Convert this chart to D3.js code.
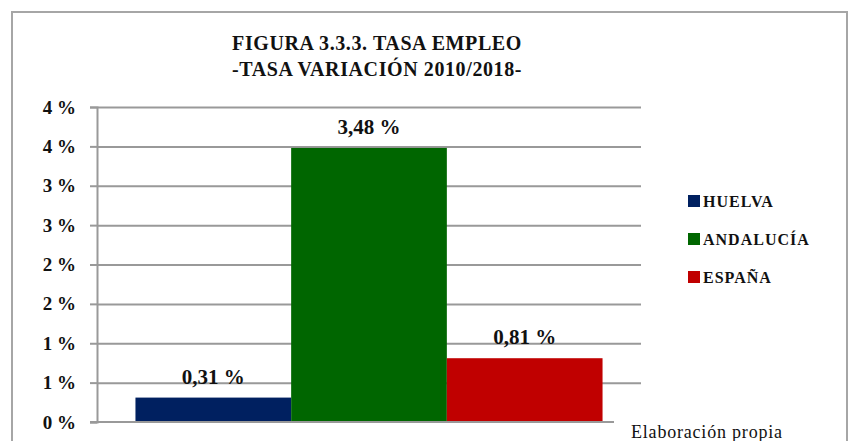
<!DOCTYPE html>
<html lang="es">
<head>
<meta charset="UTF-8">
<title>Tasa empleo</title>
<script src="https://d3js.org/d3.v7.min.js"></script>
<style>
  body { margin: 0; background: #fff; }
  svg text { font-family: "Liberation Serif", "DejaVu Serif", serif; fill: #111; }
  .grid line { stroke: #999; stroke-width: 2; }
</style>
</head>
<body>
<svg class="chart" width="852" height="441"></svg>
<script>
  // data
  const series = ['HUELVA', 'ANDALUCÍA', 'ESPAÑA'];
  const values = [0.31, 3.48, 0.81];
  const valueLabels = ['0,31 %', '3,48 %', '0,81 %'];
  const colors = ['#002060', '#006600', '#c00000'];
  const tickValues = [0, 0.5, 1, 1.5, 2, 2.5, 3, 3.5, 4];
  const tickLabels = ['0 %', '1 %', '1 %', '2 %', '2 %', '3 %', '3 %', '4 %', '4 %'];
  const titleLines = ['FIGURA 3.3.3. TASA EMPLEO', '-TASA VARIACIÓN 2010/2018-'];

  const svg = d3.select('svg.chart');
  const plot = { left: 97, right: 641, top: 107, bottom: 422 };

  // outer frame
  svg.append('rect')
    .attr('x', 12).attr('y', 12)
    .attr('width', 835).attr('height', 440)
    .attr('fill', 'none').attr('stroke', '#a6a6a6').attr('stroke-width', 2);

  // title
  svg.append('g').selectAll('text')
    .data(titleLines)
    .join('text')
    .attr('x', 377)
    .attr('y', (d, i) => 50 + i * 26)
    .attr('text-anchor', 'middle')
    .style('font-weight', 'bold')
    .style('font-size', '20px')
    .style('letter-spacing', '0.6px')
    .text(d => d);

  // scales
  const y = d3.scaleLinear().domain([0, 4]).range([plot.bottom, plot.top]);
  const x = d3.scaleBand().domain(series)
    .range([plot.left, plot.right])
    .paddingInner(0).paddingOuter(0.247);

  // gridlines
  svg.append('g')
    .attr('class', 'grid')
    .attr('transform', `translate(${plot.left},0)`)
    .call(d3.axisLeft(y).tickValues(tickValues.slice(1)).tickSize(-(plot.right - plot.left)).tickFormat(''))
    .call(g => g.select('.domain').remove());

  // left axis with labels
  svg.append('g')
    .attr('transform', `translate(${plot.left},0)`)
    .call(d3.axisLeft(y).tickValues(tickValues).tickSize(7).tickPadding(14)
      .tickFormat((d, i) => tickLabels[i]))
    .call(g => g.select('.domain').attr('stroke', '#999').attr('stroke-width', 2))
    .call(g => g.selectAll('.tick line').attr('stroke', '#999').attr('stroke-width', 2))
    .call(g => g.selectAll('.tick text')
      .attr('fill', '#111')
      .style('font-family', '"Liberation Serif", serif')
      .style('font-weight', 'bold')
      .style('font-size', '19px'));

  // bars
  svg.append('g').selectAll('rect')
    .data(series)
    .join('rect')
    .attr('x', d => x(d))
    .attr('y', (d, i) => y(values[i]))
    .attr('width', x.bandwidth())
    .attr('height', (d, i) => y(0) - y(values[i]))
    .attr('fill', (d, i) => colors[i]);

  // baseline
  svg.append('line')
    .attr('x1', plot.left - 7).attr('x2', 614)
    .attr('y1', y(0)).attr('y2', y(0))
    .attr('stroke', '#999').attr('stroke-width', 2);

  // value labels
  svg.append('g').selectAll('text')
    .data(series)
    .join('text')
    .attr('x', d => x(d) + x.bandwidth() / 2)
    .attr('y', (d, i) => y(values[i]) - 14)
    .attr('text-anchor', 'middle')
    .style('font-weight', 'bold')
    .style('font-size', '21px')
    .text((d, i) => valueLabels[i]);

  // legend
  const legend = svg.append('g').selectAll('g')
    .data(series)
    .join('g')
    .attr('transform', (d, i) => `translate(688,${201 + i * 38})`);
  legend.append('rect')
    .attr('x', 0).attr('y', -6)
    .attr('width', 12).attr('height', 12)
    .attr('fill', (d, i) => colors[i]);
  legend.append('text')
    .attr('x', 15).attr('y', 6)
    .style('font-weight', 'bold')
    .style('font-size', '16px')
    .style('letter-spacing', '1px')
    .text(d => d);

  // source note
  svg.append('rect')
    .attr('x', 626).attr('y', 416).attr('width', 170).attr('height', 25)
    .attr('fill', '#fff');
  svg.append('text')
    .attr('x', 631).attr('y', 438)
    .style('font-size', '18px')
    .style('letter-spacing', '0.8px')
    .text('Elaboración propia');
</script>
</body>
</html>
